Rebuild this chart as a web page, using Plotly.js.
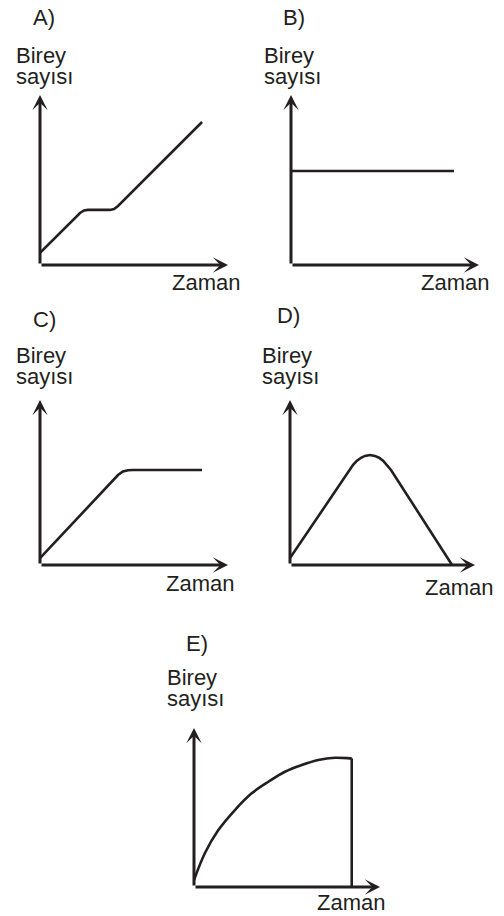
<!DOCTYPE html>
<html>
<head>
<meta charset="utf-8">
<script src="https://cdn.plot.ly/plotly-3.0.1.min.js"></script>
<style>html,body{margin:0;padding:0;background:#fff;}#chart{width:504px;height:916px;}</style>
</head>
<body>
<div id="chart"></div>
<script>
// ---- data (axis units: 0..10 along each arrow) ----
const panelLabels = ['A)', 'B)', 'C)', 'D)', 'E)'];
const yLabelLine1 = 'Birey';
const yLabelLine2 = 'sayısı';
const xLabel = 'Zaman';

const aX = [0, 2.13, 2.34, 2.55, 3.72, 3.94, 4.15, 8.62];
const aY = [0.71, 3.06, 3.21, 3.24, 3.24, 3.29, 3.47, 8.41];

const bX = [0, 8.67];
const bY = [5.53, 5.53];

const cX = [0, 4.15, 4.41, 4.68, 4.95, 8.62];
const cY = [0.42, 5.45, 5.67, 5.74, 5.76, 5.76];

const dX = [0, 3.19, 3.41, 3.62, 3.84, 4.05, 4.32, 4.59, 4.81, 5.03, 5.24, 5.46, 8.76];
const dY = [0.42, 5.76, 6.07, 6.32, 6.50, 6.61, 6.67, 6.61, 6.50, 6.32, 6.07, 5.76, 0];

const eX = [0, 0.59, 1.31, 2.20, 3.10, 4.00, 4.89, 5.79, 6.68, 7.58, 8.42, 8.48];
const eY = [0.44, 2.14, 3.58, 4.84, 5.89, 6.62, 7.25, 7.67, 7.99, 8.13, 8.09, 8.09];
const eDropX = [8.48, 8.48];
const eDropY = [8.09, 0];

const seriesX = [aX, bX, cX, dX, eX];
const seriesY = [aY, bY, cY, dY, eY];
const seriesShape = ['linear', 'linear', 'linear', 'linear', 'spline'];

// ---- layout geometry (pixels) ----
const W = 504, H = 916;
const geom = [
  {ox: 40,  oy: 265, tx: 228, ty: 95,  tdx: 4,  tdy: 248, bdx: -26, zdx: 166, zdy: -17},
  {ox: 291, oy: 265, tx: 479, ty: 95,  tdx: 3,  tdy: 248, bdx: -29, zdx: 164, zdy: -17},
  {ox: 40,  oy: 565, tx: 228, ty: 400, tdx: 4,  tdy: 246, bdx: -26, zdx: 160, zdy: -18},
  {ox: 290, oy: 565, tx: 475, ty: 400, tdx: -2, tdy: 250, bdx: -30, zdx: 169, zdy: -22},
  {ox: 194, oy: 887, tx: 380, ty: 728, tdx: 3,  tdy: 244, bdx: -29, zdx: 157, zdy: -15}
];

const ink = '#231f20';
const fontFam = 'Liberation Sans, Arial, Helvetica, sans-serif';
const traces = [];
const annotations = [];
const layout = {
  width: W, height: H,
  margin: {l: 0, r: 0, t: 0, b: 0},
  paper_bgcolor: '#ffffff', plot_bgcolor: 'rgba(0,0,0,0)',
  showlegend: false,
  annotations: annotations
};

geom.forEach((g, i) => {
  const n = i + 1;
  const xa = 'x' + (n === 1 ? '' : n), ya = 'y' + (n === 1 ? '' : n);
  const xk = 'xaxis' + (n === 1 ? '' : n), yk = 'yaxis' + (n === 1 ? '' : n);
  layout[xk] = {domain: [g.ox / W, g.tx / W], range: [0, 10], visible: false, fixedrange: true, anchor: ya};
  layout[yk] = {domain: [(H - g.oy) / H, (H - g.ty) / H], range: [0, 10], visible: false, fixedrange: true, anchor: xa};

  traces.push({
    type: 'scatter', mode: 'lines', x: seriesX[i], y: seriesY[i],
    xaxis: xa, yaxis: ya, cliponaxis: false, hoverinfo: 'skip',
    line: {color: ink, width: 2.6, shape: seriesShape[i], smoothing: 1}
  });
  if (i === 4) {
    traces.push({
      type: 'scatter', mode: 'lines', x: eDropX, y: eDropY,
      xaxis: xa, yaxis: ya, cliponaxis: false, hoverinfo: 'skip',
      line: {color: ink, width: 2.6}
    });
  }

  const arrowCommon = {xref: xa, yref: ya, axref: xa, ayref: ya, text: '', showarrow: true,
    arrowhead: 3, arrowsize: 0.85, arrowwidth: 3, arrowcolor: ink, standoff: 0, startstandoff: 0};
  annotations.push(Object.assign({}, arrowCommon, {x: 10, y: 0, ax: 0, ay: 0}));
  annotations.push(Object.assign({}, arrowCommon, {x: 0, y: 10, ax: 0, ay: 0}));

  const font = {family: fontFam, size: 22, color: ink};
  const textCommon = {xref: xa, yref: ya, x: 0, y: 0, showarrow: false, font: font, yanchor: 'middle'};
  annotations.push(Object.assign({}, textCommon, {text: panelLabels[i], xanchor: 'center', xshift: g.tdx, yshift: g.tdy}));
  annotations.push(Object.assign({}, textCommon, {text: yLabelLine1, xanchor: 'left', xshift: g.bdx, yshift: 210}));
  annotations.push(Object.assign({}, textCommon, {text: yLabelLine2, xanchor: 'left', xshift: g.bdx, yshift: 189}));
  annotations.push(Object.assign({}, textCommon, {text: xLabel, xanchor: 'center', xshift: g.zdx, yshift: g.zdy}));
});

Plotly.newPlot('chart', traces, layout, {staticPlot: true, displayModeBar: false});
</script>
</body>
</html>
